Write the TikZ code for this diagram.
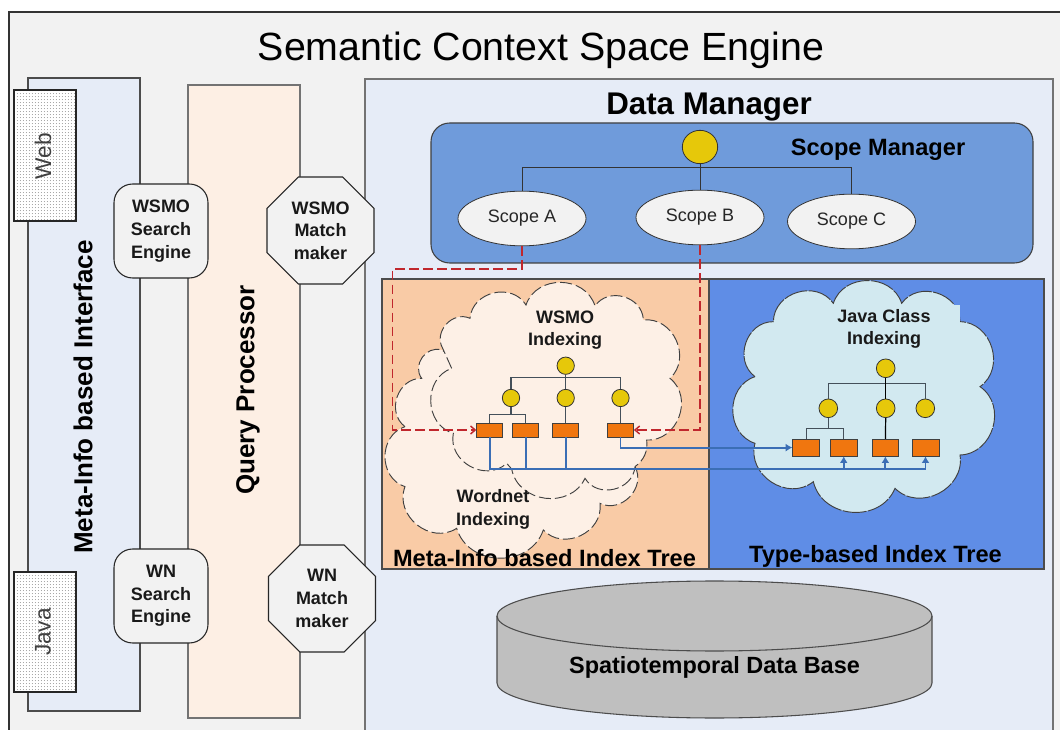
\documentclass[tikz,border=0pt]{standalone}
\usepackage{fontspec}
\setmainfont{Liberation Sans}
\usetikzlibrary{shapes.geometric,patterns,arrows.meta}
\pgfdeclarepatternformonly{finedots}{\pgfpointorigin}{\pgfqpoint{2.5pt}{2.5pt}}{\pgfqpoint{2.5pt}{2.5pt}}{\pgfpathcircle{\pgfqpoint{1.25pt}{1.25pt}}{0.4pt}\pgfusepath{fill}}
\definecolor{framebg}{HTML}{F2F2F2}
\definecolor{panelblue}{HTML}{E6ECF7}
\definecolor{panelpeach}{HTML}{FDEFE4}
\definecolor{scopeblue}{HTML}{6F9BDB}
\definecolor{metaorange}{HTML}{F9CBA6}
\definecolor{typeblue}{HTML}{5F8DE6}
\definecolor{cloudpeach}{HTML}{FDF0E6}
\definecolor{cloudblue}{HTML}{D2E9F0}
\definecolor{treeyellow}{HTML}{E6C80A}
\definecolor{leaforange}{HTML}{F0760F}
\definecolor{linkblue}{HTML}{3B6EB5}
\definecolor{linkred}{HTML}{C0272D}
\definecolor{treeline}{HTML}{44505A}
\tikzset{
 x=0.75pt,y=-0.75pt,
 lbl/.style={font=\bfseries\fontsize{#1}{#1}\selectfont,text=black,align=center,inner sep=0},
 mid/.style={font=\bfseries\fontsize{13.5}{17}\selectfont,text=black!90,align=center,inner sep=0},
 ylw/.style={circle,draw=black!80,fill=treeyellow,line width=0.6pt,minimum size=#1,inner sep=0},
 leaf/.style={rectangle,draw=black!75,fill=leaforange,line width=0.6pt,minimum width=19.5pt,minimum height=10.5pt,inner sep=0},
 jleaf/.style={leaf,minimum width=20.2pt,minimum height=12.5pt},
 scopeell/.style={ellipse,draw=black!80,fill=framebg,line width=0.6pt,minimum width=96pt,minimum height=41pt,inner sep=0,font=\fontsize{13.5}{13.5}\selectfont,text=black!85},
 engine/.style={rectangle,rounded corners=14pt,draw=black!85,fill=framebg,line width=0.8pt,minimum width=70.5pt,minimum height=70.5pt,inner sep=0,mid},
 octa/.style={regular polygon,regular polygon sides=8,draw=black!85,fill=framebg,line width=0.8pt,minimum size=86.9pt,inner sep=0,mid},
 tagbox/.style={draw=black!85,line width=0.8pt,pattern=finedots,pattern color=black!60},
 taglbl/.style={font=\fontsize{17}{17}\selectfont,text=black!75,rotate=90,inner sep=0},
 treelink/.style={draw=treeline,line width=0.9pt},
 blink/.style={draw=linkblue,line width=1.4pt},
 rlink/.style={draw=linkred,line width=1.1pt,dash pattern=on 7pt off 3.5pt},
 cloudedge/.style={draw=black!75,line width=0.7pt,dash pattern=on 9pt off 3pt},
}
\newcommand{\bump}{to[bend left=72,looseness=1.2]}
\begin{document}
\begin{tikzpicture}
\useasboundingbox (0,0) rectangle (1060,730);
% frame
\fill[white] (0,0) rectangle (1060,730);
\fill[framebg] (9,12) rectangle (1060,730);
\draw[draw=black!80,line width=0.9pt] (9,730) -- (9,12) -- (1060,12);
\node[inner sep=0,font=\fontsize{29.5}{29.5}\selectfont,text=black] (title) at (541,50) {Semantic Context Space Engine};
% columns
\draw[draw=black!70,fill=panelblue,line width=0.8pt] (28,78) rectangle (140,711);
\draw[draw=black!55,fill=panelpeach,line width=1pt] (188,85) rectangle (300,718);
\draw[draw=black!55,fill=panelblue,line width=0.8pt] (365,79) rectangle (1053,735);
\node[lbl=19.5,rotate=90] (metaif) at (83,397) {Meta-Info based Interface};
\node[lbl=19.5,rotate=90] (qp) at (248,390) {Query Processor};
\fill[white] (14,90) rectangle (76,221);
\draw[tagbox] (14,90) rectangle (76,221);
\fill[white] (14,572) rectangle (76,692);
\draw[tagbox] (14,572) rectangle (76,692);
\node[taglbl] (web) at (43,156) {Web};
\node[taglbl] (java) at (43,632) {Java};
\node[engine] (wsmose) at (161,231) {WSMO\\Search\\Engine};
\node[engine] (wnse) at (161,596) {WN\\Search\\Engine};
\node[octa] (wsmomm) at (320.5,230.5) {WSMO\\Match\\maker};
\node[octa] (wnmm) at (322,598.5) {WN\\Match\\maker};
% data manager
\node[lbl=23.5] (dm) at (709,107) {Data Manager};
\draw[draw=black!75,fill=scopeblue,line width=0.8pt,rounded corners=14pt] (431,123) rectangle (1033,263);
\node[lbl=17.7] (sm) at (878,150) {Scope Manager};
\node[ellipse,draw=black!80,fill=treeyellow,line width=0.6pt,minimum width=26.5pt,minimum height=25pt,inner sep=0] (sroot) at (700,147) {};
\node[scopeell] (sa) at (522,218.5) {Scope A};
\node[scopeell] (sb) at (700,217.5) {Scope B};
\node[scopeell] (sc) at (851.5,221.5) {Scope C};
\coordinate (sbus) at (0,167);
\draw[draw=black!80,line width=0.7pt] (sa.north) -- (sa.north |- sbus) -- (sc.north |- sbus) -- (sc.north);
\draw[draw=black!80,line width=0.7pt] (sroot.south) -- (sb.north);
% index panels
\draw[draw=black!70,fill=metaorange,line width=0.9pt] (382,279) rectangle (709,569);
\draw[draw=black!70,fill=typeblue,line width=0.9pt] (709,279) rectangle (1044,569);
% wordnet cloud
\begin{scope}[shift={(380,270)},x=0.25pt,y=-0.25pt]
\path[fill=cloudpeach,cloudedge] (75,470) \bump (125,325) \bump (185,240) -- (765,590) \bump (660,700) \bump (490,780) \bump (230,775) \bump (75,650) \bump (75,470) -- cycle;
\path[fill=cloudpeach,cloudedge] (215,295) -- (188,235) \bump (270,145) \bump (438,105) \bump (645,108) \bump (790,150) \bump (870,325) \bump (800,510) to[bend left=30] (765,590) \bump (615,625) \bump (395,597) -- (380,580) \bump (220,490) \bump (215,295) -- cycle;
\end{scope}
\begin{scope}[shift={(710,270)},x=0.25pt,y=-0.25pt]
\path[fill=cloudblue,cloudedge,dash pattern=on 18pt off 1pt] (135,320) \bump (190,155) \bump (370,100) \bump (575,100) \bump (750,155) \bump (810,350) \bump (750,555) \bump (555,655) \bump (310,635) \bump (135,520) \bump (135,320) -- cycle;
\fill[cloudblue] (680,104) rectangle (751,158);
\end{scope}
\node[lbl=17.7] (mtree) at (544.5,558) {Meta-Info based Index Tree};
\node[lbl=17.7] (ttree) at (875.5,556) {Type-based Index Tree};
\node[mid] (wsmoi) at (565,330) {WSMO\\Indexing};
\node[mid] (wni) at (493,509.5) {Wordnet\\Indexing};
\node[mid] (javai) at (884,329) {Java Class\\Indexing};
% wsmo tree
\node[ylw=13pt] (w0) at (565.7,365.7) {};
\node[ylw=13pt] (w1) at (511,398) {};
\node[ylw=13pt] (w2) at (565.7,398) {};
\node[ylw=13pt] (w3) at (620.5,398) {};
\node[leaf] (wl1) at (489.7,430) {};
\node[leaf] (wl2) at (525.7,430) {};
\node[leaf] (wl3) at (565.7,430) {};
\node[leaf] (wl4) at (620.5,430) {};
\coordinate (wbus) at (0,377.7);
\coordinate (wbus2) at (0,414.3);
\draw[treelink] (w1.north) -- (w1.north |- wbus) -- (w3.north |- wbus) -- (w3.north);
\draw[treelink] (w0.south) -- (w2.north);
\draw[treelink] (w1.south) -- (w1.south |- wbus2);
\draw[treelink] (wl1.north) -- (wl1.north |- wbus2) -- (wl2.north |- wbus2) -- (wl2.north);
\draw[treelink] (w2.south) -- (wl3.north);
\draw[treelink] (w3.south) -- (wl4.north);
% java tree
\node[ylw=14pt] (j0) at (885.7,368.3) {};
\node[ylw=14pt] (j1) at (828.3,408.3) {};
\node[ylw=14pt] (j2) at (885.7,408.3) {};
\node[ylw=14pt] (j3) at (925.3,408.3) {};
\node[jleaf] (jl1) at (806.2,447.6) {};
\node[jleaf] (jl2) at (843.7,447.6) {};
\node[jleaf] (jl3) at (885.4,447.6) {};
\node[jleaf] (jl4) at (925.5,447.6) {};
\coordinate (jbus) at (0,383.3);
\coordinate (jbus2) at (0,428.3);
\draw[treelink] (j1.north) -- (j1.north |- jbus) -- (j3.north |- jbus) -- (j3.north);
\draw[treelink,draw=black] (j0.south) -- (j2.north);
\draw[treelink] (j1.south) -- (j1.south |- jbus2);
\draw[treelink] (jl1.north) -- (jl1.north |- jbus2) -- (jl2.north |- jbus2) -- (jl2.north);
\draw[treelink,draw=black] (j2.south) -- (jl3.north);
% blue links
\coordinate (bbus) at (0,469.3);
\draw[blink] (wl1.south) -- (wl1.south |- bbus) -- (jl4.south |- bbus);
\draw[blink] (wl2.south) -- (wl2.south |- bbus);
\draw[blink] (wl3.south) -- (wl3.south |- bbus);
\draw[blink,-{Latex[length=5pt,width=6pt]}] (jl2.south |- bbus) -- (jl2.south);
\draw[blink,-{Latex[length=5pt,width=6pt]}] (jl3.south |- bbus) -- (jl3.south);
\draw[blink,-{Latex[length=5pt,width=6pt]}] (jl4.south |- bbus) -- (jl4.south);
\draw[blink,-{Latex[length=5pt,width=6pt]}] (wl4.south) -- (wl4.south |- jl1.west) -- (jl1.west);
% red links
\coordinate (rleft) at (392.5,269);
\draw[rlink,-{Straight Barb[length=3.5pt,width=6pt]}] (sa.south) -- (sa.south |- rleft) -- (rleft) -- (rleft |- wl1.west) -- (wl1.west);
\draw[rlink,-{Straight Barb[length=3.5pt,width=6pt]}] (sb.south) -- (sb.south |- wl4.east) -- (wl4.east);
% database
\path[draw=black!70,fill=black!25,line width=0.8pt] (497,616) -- (497,683) arc[start angle=180,end angle=0,x radius=217.5,y radius=35] -- (932,616) arc[start angle=0,end angle=-180,x radius=217.5,y radius=35] -- cycle;
\draw[draw=black!70,line width=0.8pt] (497,616) arc[start angle=180,end angle=0,x radius=217.5,y radius=35];
\node[lbl=17.6] (db) at (714.5,667) {Spatiotemporal Data Base};
\end{tikzpicture}
\end{document}
